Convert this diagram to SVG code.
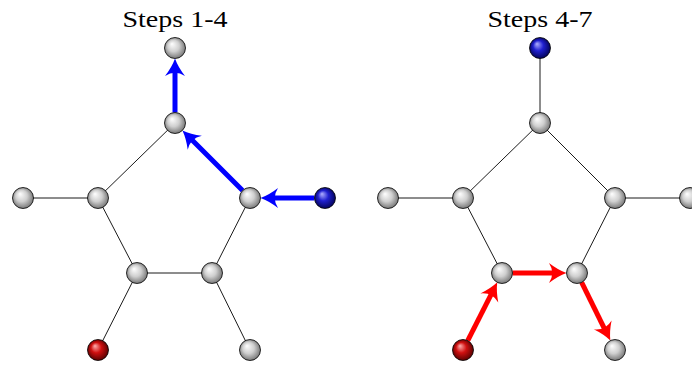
<svg xmlns="http://www.w3.org/2000/svg" width="692" height="365" viewBox="0 0 692 365">
<style>
.edge{stroke:#000;stroke-width:0.9;fill:none}
.ball{stroke:#000;stroke-width:0.8}
.gray{fill:url(#gGray)}
.blue{fill:url(#gBlue)}
.red{fill:url(#gRed)}
.ab{stroke:#0000ff;stroke-width:5;fill:none;marker-end:url(#mBlue)}
.ar{stroke:#ff0000;stroke-width:5;fill:none;marker-end:url(#mRed)}
.title{font-family:"Liberation Serif","DejaVu Serif",serif;font-size:24px;fill:#000}
</style>
<defs>
<radialGradient id="gGray" cx="0.5" cy="0.5" r="0.55" fx="0.35" fy="0.3">
<stop offset="0" stop-color="#ffffff"/>
<stop offset="0.5" stop-color="#cfcfcf"/>
<stop offset="1" stop-color="#6a6a6a"/>
</radialGradient>
<radialGradient id="gBlue" cx="0.5" cy="0.5" r="0.55" fx="0.35" fy="0.3">
<stop offset="0" stop-color="#b0b0ff"/>
<stop offset="0.45" stop-color="#2020d0"/>
<stop offset="1" stop-color="#00004a"/>
</radialGradient>
<radialGradient id="gRed" cx="0.5" cy="0.5" r="0.55" fx="0.35" fy="0.3">
<stop offset="0" stop-color="#ffb0b0"/>
<stop offset="0.45" stop-color="#d01010"/>
<stop offset="1" stop-color="#4a0000"/>
</radialGradient>
<marker id="mBlue" markerUnits="userSpaceOnUse" markerWidth="30" markerHeight="30" refX="6" refY="0" orient="auto" overflow="visible">
<path d="M17.5,0 Q9,-3 0,-10 Q6.5,0 0,10 Q9,3 17.5,0 Z" fill="#0000ff"/>
</marker>
<marker id="mRed" markerUnits="userSpaceOnUse" markerWidth="30" markerHeight="30" refX="6" refY="0" orient="auto" overflow="visible">
<path d="M17.5,0 Q9,-3 0,-10 Q6.5,0 0,10 Q9,3 17.5,0 Z" fill="#ff0000"/>
</marker>
</defs>
<text class="title" x="175" y="27" text-anchor="middle" textLength="105" lengthAdjust="spacingAndGlyphs">Steps 1-4</text>
<text class="title" x="540" y="27" text-anchor="middle" textLength="105" lengthAdjust="spacingAndGlyphs">Steps 4-7</text>
<g id="connectors">
<line class="edge" x1="175" y1="123" x2="98" y2="198"/>
<line class="edge" x1="98" y1="198" x2="23" y2="198"/>
<line class="edge" x1="98" y1="198" x2="137" y2="273"/>
<line class="edge" x1="137" y1="273" x2="212" y2="273"/>
<line class="edge" x1="212" y1="273" x2="250" y2="198"/>
<line class="edge" x1="137" y1="273" x2="98" y2="350"/>
<line class="edge" x1="212" y1="273" x2="250" y2="350"/>
<line class="edge" x1="540" y1="48" x2="540" y2="123"/>
<line class="edge" x1="540" y1="123" x2="463" y2="198"/>
<line class="edge" x1="540" y1="123" x2="615" y2="198"/>
<line class="edge" x1="463" y1="198" x2="388" y2="198"/>
<line class="edge" x1="615" y1="198" x2="690" y2="198"/>
<line class="edge" x1="463" y1="198" x2="502" y2="273"/>
<line class="edge" x1="615" y1="198" x2="577" y2="273"/>
<line class="ab" x1="175" y1="112.5" x2="175" y2="70"/>
<line class="ab" x1="242.58" y1="190.58" x2="190.56" y2="138.56"/>
<line class="ab" x1="314.5" y1="198" x2="272" y2="198"/>
<line class="ar" x1="467.74" y1="340.63" x2="492.06" y2="292.63"/>
<line class="ar" x1="512.5" y1="273" x2="555" y2="273"/>
<line class="ar" x1="581.65" y1="282.42" x2="605.27" y2="330.28"/>
</g>
<g id="n1-top"><circle class="ball gray" cx="175" cy="48" r="10.5"/></g>
<g id="n1-ringtop"><circle class="ball gray" cx="175" cy="123" r="10.5"/></g>
<g id="n1-ringleft"><circle class="ball gray" cx="98" cy="198" r="10.5"/></g>
<g id="n1-ringright"><circle class="ball gray" cx="250" cy="198" r="10.5"/></g>
<g id="n1-ringbl"><circle class="ball gray" cx="137" cy="273" r="10.5"/></g>
<g id="n1-ringbr"><circle class="ball gray" cx="212" cy="273" r="10.5"/></g>
<g id="n1-left"><circle class="ball gray" cx="23" cy="198" r="10.5"/></g>
<g id="n1-right"><circle class="ball blue" cx="325" cy="198" r="10.5"/></g>
<g id="n1-bl"><circle class="ball red" cx="98" cy="350" r="10.5"/></g>
<g id="n1-br"><circle class="ball gray" cx="250" cy="350" r="10.5"/></g>
<g id="n2-top"><circle class="ball blue" cx="540" cy="48" r="10.5"/></g>
<g id="n2-ringtop"><circle class="ball gray" cx="540" cy="123" r="10.5"/></g>
<g id="n2-ringleft"><circle class="ball gray" cx="463" cy="198" r="10.5"/></g>
<g id="n2-ringright"><circle class="ball gray" cx="615" cy="198" r="10.5"/></g>
<g id="n2-ringbl"><circle class="ball gray" cx="502" cy="273" r="10.5"/></g>
<g id="n2-ringbr"><circle class="ball gray" cx="577" cy="273" r="10.5"/></g>
<g id="n2-left"><circle class="ball gray" cx="388" cy="198" r="10.5"/></g>
<g id="n2-right"><circle class="ball gray" cx="690" cy="198" r="10.5"/></g>
<g id="n2-bl"><circle class="ball red" cx="463" cy="350" r="10.5"/></g>
<g id="n2-br"><circle class="ball gray" cx="615" cy="350" r="10.5"/></g>
</svg>
